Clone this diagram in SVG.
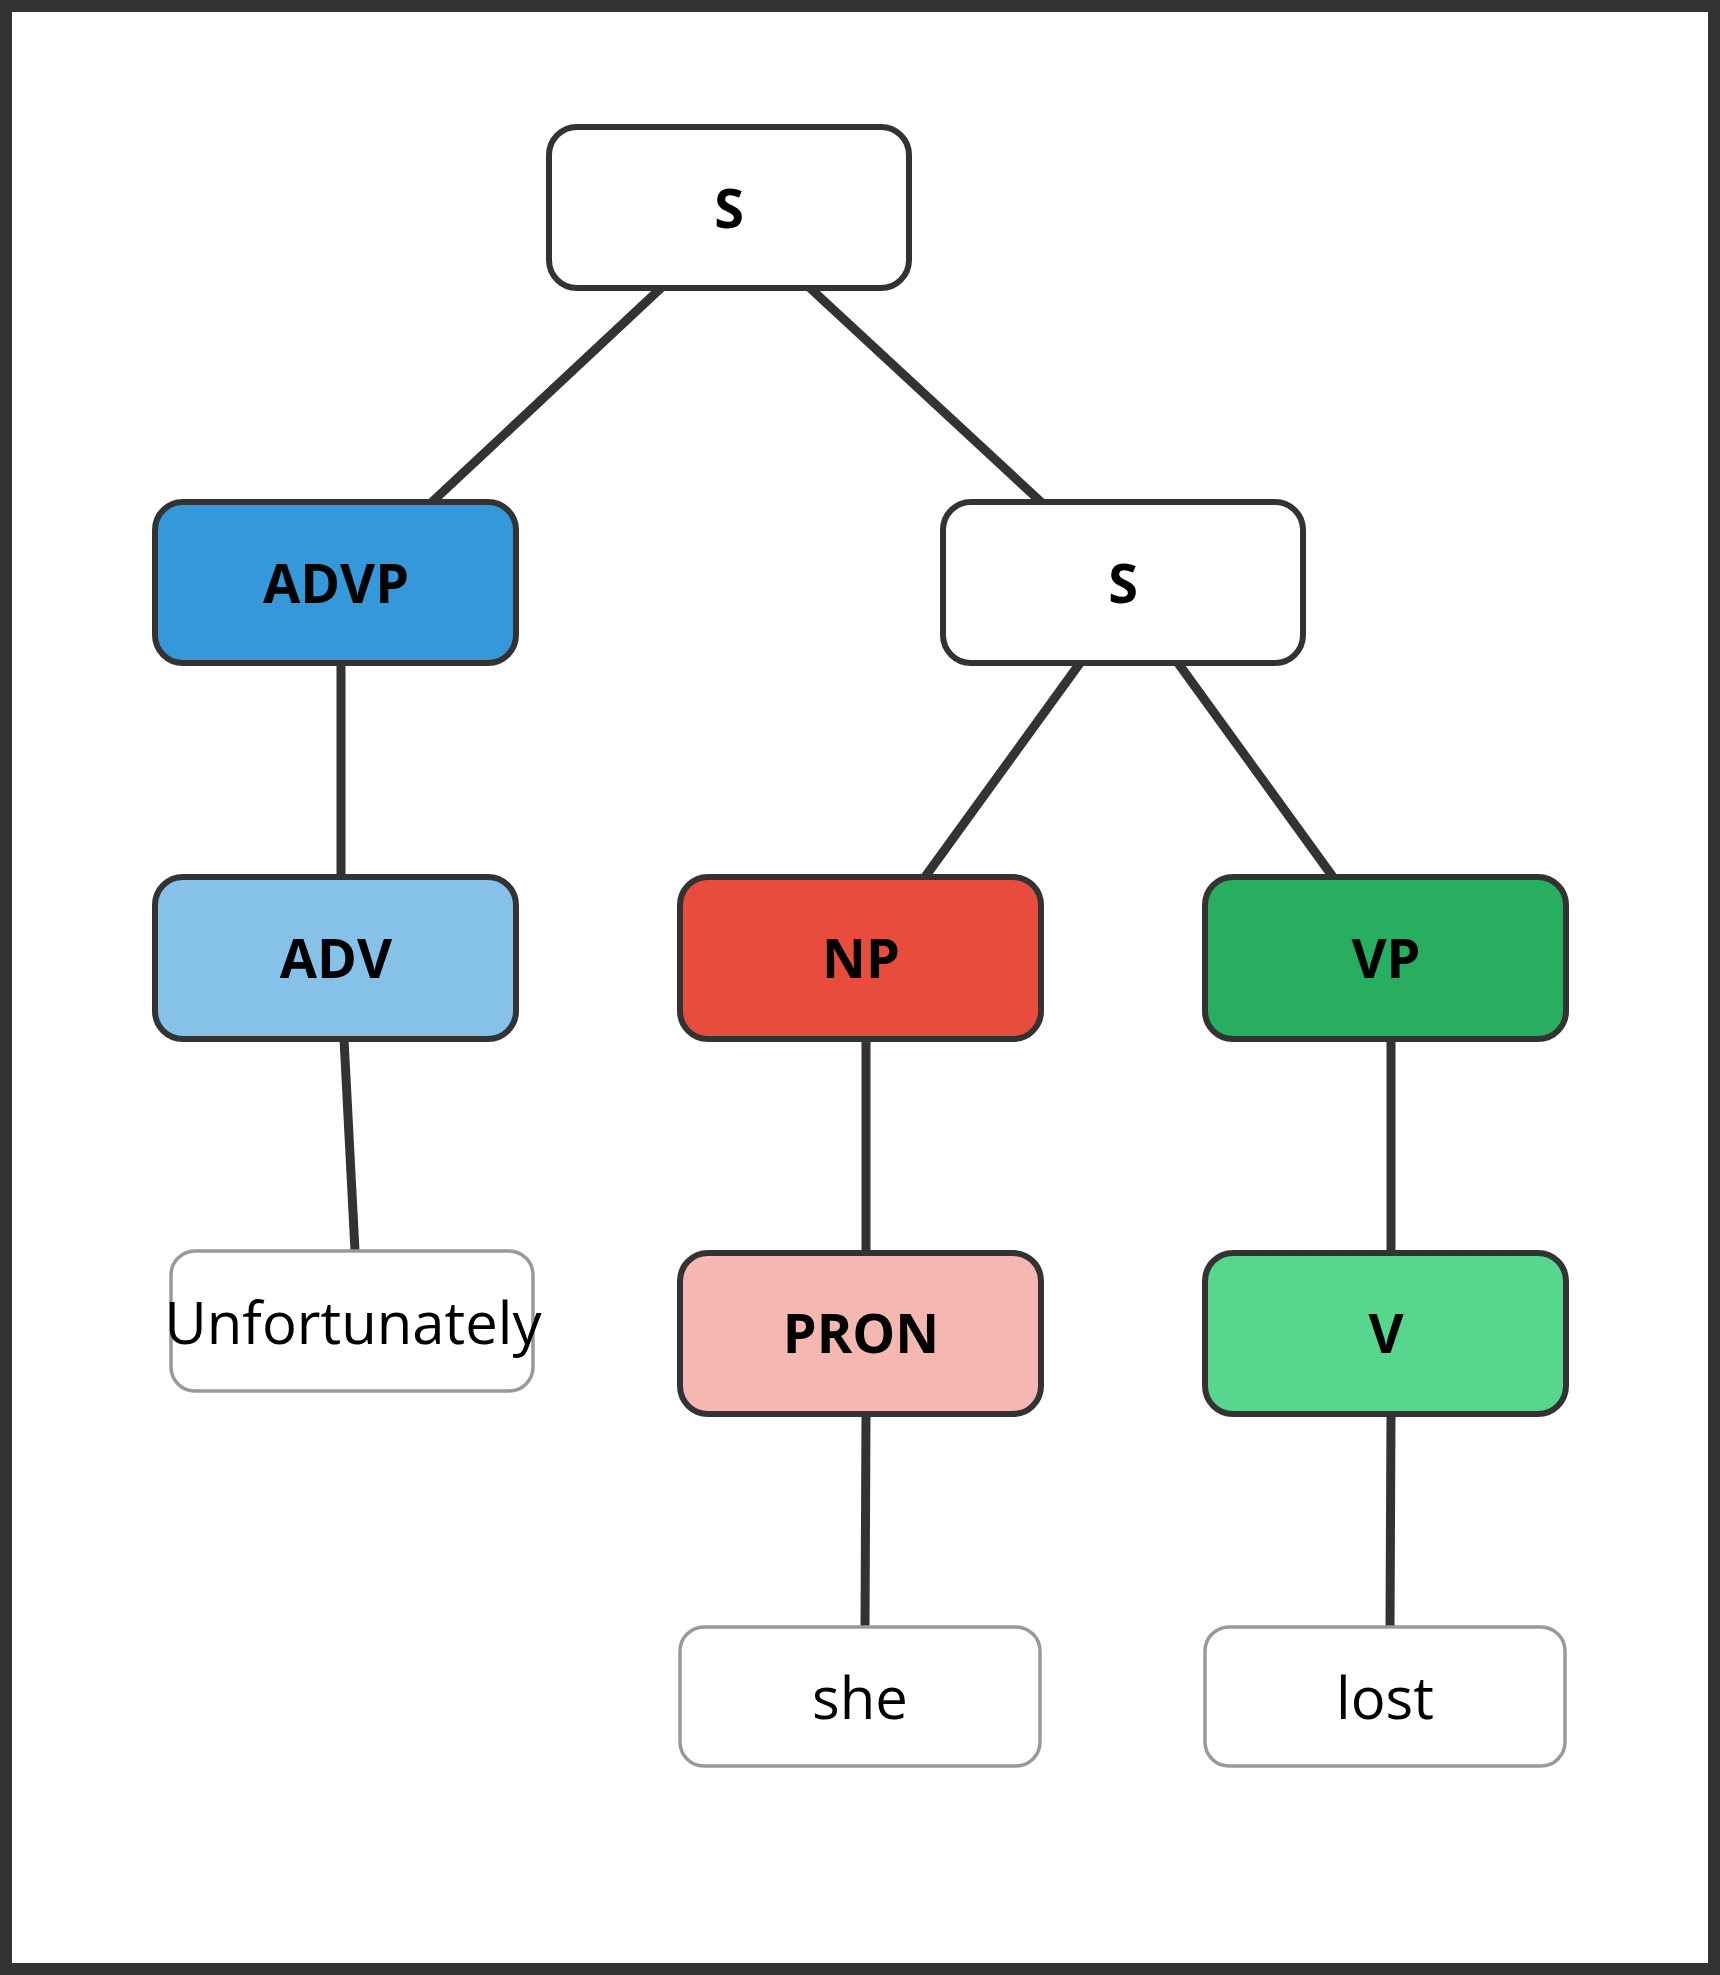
<svg xmlns="http://www.w3.org/2000/svg" width="1720" height="1975" viewBox="0 0 1720 1975">
<style>
.n{stroke:#333;stroke-width:6}
.l{fill:#fff;stroke:#999;stroke-width:3.5}
.t{font-family:"Open Sans","Noto Sans",sans-serif;font-weight:bold;font-size:54px;text-anchor:middle;dominant-baseline:central;fill:#000}
.w{font-family:"Open Sans","Noto Sans",sans-serif;font-size:58px;text-anchor:middle;dominant-baseline:central;fill:#000}
#edges line{stroke:#333;stroke-width:9}
</style>
<rect x="6" y="6" width="1708" height="1963" fill="#fff" stroke="#333" stroke-width="12"/>
<g id="edges">
<line x1="661" y1="288" x2="432" y2="502"/>
<line x1="810" y1="288" x2="1041" y2="502"/>
<line x1="341" y1="663" x2="341" y2="877"/>
<line x1="1080" y1="663" x2="925" y2="877"/>
<line x1="1178" y1="663" x2="1333" y2="877"/>
<line x1="344" y1="1039" x2="355" y2="1251"/>
<line x1="866" y1="1039" x2="866" y2="1253"/>
<line x1="1391" y1="1039" x2="1391" y2="1253"/>
<line x1="866" y1="1414" x2="865" y2="1627"/>
<line x1="1391" y1="1414" x2="1390" y2="1627"/>
</g>
<g id="s1"><rect class="n" x="549" y="127" width="360" height="161" rx="28" fill="#fff"/><text class="t" x="729" y="207">S</text></g>
<g id="advp"><rect class="n" x="155" y="502" width="361" height="161" rx="28" fill="#3498db"/><text class="t" x="336" y="582">ADVP</text></g>
<g id="s2"><rect class="n" x="943" y="502" width="360" height="161" rx="28" fill="#fff"/><text class="t" x="1123" y="582">S</text></g>
<g id="adv"><rect class="n" x="155" y="877" width="361" height="162" rx="28" fill="#85c1e9"/><text class="t" x="336" y="957">ADV</text></g>
<g id="np"><rect class="n" x="680" y="877" width="361" height="162" rx="28" fill="#e74c3c"/><text class="t" x="861" y="957">NP</text></g>
<g id="vp"><rect class="n" x="1205" y="877" width="361" height="162" rx="28" fill="#27ae60"/><text class="t" x="1386" y="957">VP</text></g>
<g id="unfortunately"><rect class="l" x="171" y="1251" width="362" height="140" rx="24"/><text class="w" x="353" y="1321">Unfortunately</text></g>
<g id="pron"><rect class="n" x="680" y="1253" width="361" height="161" rx="28" fill="#f5b7b1"/><text class="t" x="861" y="1332">PRON</text></g>
<g id="v"><rect class="n" x="1205" y="1253" width="361" height="161" rx="28" fill="#58d68d"/><text class="t" x="1386" y="1332">V</text></g>
<g id="she"><rect class="l" x="680" y="1627" width="360" height="139" rx="24"/><text class="w" x="860" y="1696">she</text></g>
<g id="lost"><rect class="l" x="1205" y="1627" width="360" height="139" rx="24"/><text class="w" x="1385" y="1696">lost</text></g>
</svg>
